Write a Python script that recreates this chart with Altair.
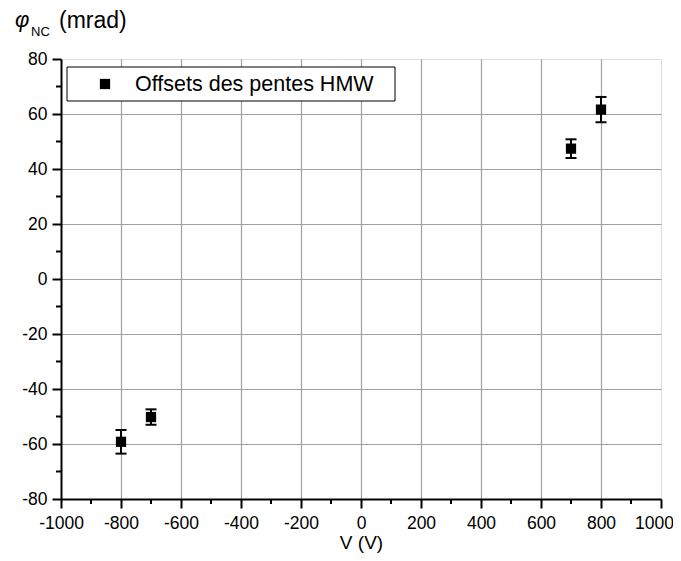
import altair as alt
import pandas as pd

# data
V = [-800, -700, 700, 800]
phi = [-59.2, -50.2, 47.4, 61.6]
err = [4.3, 2.8, 3.4, 4.6]

x_major = [-1000, -800, -600, -400, -200, 0, 200, 400, 600, 800, 1000]
x_minor = [-900, -700, -500, -300, -100, 100, 300, 500, 700, 900]
y_major = [-80, -60, -40, -20, 0, 20, 40, 60, 80]
y_minor = [-70, -50, -30, -10, 10, 30, 50, 70]
legend_label = ["Offsets des pentes HMW"]

FONT = "Liberation Sans"
W, H = 600, 440

df = pd.DataFrame({"V": V, "phi": phi, "err": err})
df["lo"] = df["phi"] - df["err"]
df["hi"] = df["phi"] + df["err"]

xs = alt.Scale(domain=[-1000, 1000], nice=False, zero=False)
ys = alt.Scale(domain=[-80, 80], nice=False, zero=False)

xaxis = alt.Axis(
    values=x_major, title="V (V)", labelFont=FONT, labelFontSize=17.5, labelColor="black",
    labelExpr="'' + datum.value",
    labelOffset=alt.ExprRef("datum.value == 1000 ? -7 : 0"),
    titleFont=FONT, titleFontSize=19, titleFontWeight="normal", titleColor="black",
    titlePadding=2, tickSize=9, tickWidth=2, tickColor="black", domainColor="black",
    domainWidth=2, labelPadding=6, grid=True, gridColor="#a0a0a0", gridWidth=1.2,
    gridOpacity=alt.ExprRef("abs(datum.value) == 1000 ? 0 : 1"), labelFlush=False,
)
yaxis = alt.Axis(
    values=y_major, title=None, labelFont=FONT, labelFontSize=17.5, labelColor="black",
    labelExpr="'' + datum.value",
    tickSize=9, tickWidth=2, tickColor="black", domainColor="black", domainWidth=2,
    labelPadding=5, grid=True, gridColor="#a0a0a0", gridWidth=1.2,
    gridOpacity=alt.ExprRef("abs(datum.value) == 80 ? 0 : 1"), labelFlush=False,
)

base = alt.Chart(df)

points = base.mark_square(size=105, color="black", opacity=1).encode(
    x=alt.X("V:Q", scale=xs, axis=xaxis),
    y=alt.Y("phi:Q", scale=ys, axis=yaxis),
)
bars = base.mark_rule(color="black", strokeWidth=2).encode(
    x="V:Q", y="lo:Q", y2="hi:Q"
)
cap_lo = base.mark_tick(color="black", size=11, thickness=2, orient="horizontal", opacity=1).encode(
    x="V:Q", y="lo:Q"
)
cap_hi = base.mark_tick(color="black", size=11, thickness=2, orient="horizontal", opacity=1).encode(
    x="V:Q", y="hi:Q"
)

xminor = alt.Chart(pd.DataFrame({"v": x_minor})).mark_rule(color="black", strokeWidth=2).encode(
    x="v:Q", y=alt.value(H), y2=alt.value(H + 5)
)
yminor = alt.Chart(pd.DataFrame({"v": y_minor})).mark_rule(color="black", strokeWidth=2).encode(
    y="v:Q", x=alt.value(0), x2=alt.value(-5)
)

ldf = pd.DataFrame({"label": legend_label})
lbox = alt.Chart(ldf).mark_rect(fill="white", stroke="black", strokeWidth=1).encode(
    x=alt.value(6), x2=alt.value(334), y=alt.value(8), y2=alt.value(42)
)
lmark = alt.Chart(ldf).mark_square(size=105, color="black", opacity=1).encode(
    x=alt.value(44), y=alt.value(25)
)
ltext = alt.Chart(ldf).mark_text(font=FONT, fontSize=21.5, align="left", baseline="middle", color="black").encode(
    x=alt.value(74), y=alt.value(26), text="label:N"
)

tdf = pd.DataFrame({"phi": ["φ"], "sub": ["NC"], "unit": ["(mrad)"]})
t_phi = alt.Chart(tdf).mark_text(font=FONT, fontSize=22, fontStyle="italic", align="left", baseline="alphabetic", color="black").encode(
    x=alt.value(-46), y=alt.value(-32), text="phi:N"
)
t_sub = alt.Chart(tdf).mark_text(font=FONT, fontSize=13, align="left", baseline="alphabetic", color="black").encode(
    x=alt.value(-30), y=alt.value(-23), text="sub:N"
)
t_unit = alt.Chart(tdf).mark_text(font=FONT, fontSize=23, align="left", baseline="alphabetic", color="black").encode(
    x=alt.value(-2), y=alt.value(-31), text="unit:N"
)

chart = alt.layer(
    points, bars, cap_lo, cap_hi, xminor, yminor, lbox, lmark, ltext, t_phi, t_sub, t_unit
).properties(
    width=W, height=H,
    autosize=alt.AutoSizeParams(type="none"),
    padding={"left": 53, "top": 51, "right": 12, "bottom": 54},
).configure_view(stroke=None).configure(background="white")

chart.save("out.html", embed_options={"renderer": "svg", "actions": False})
